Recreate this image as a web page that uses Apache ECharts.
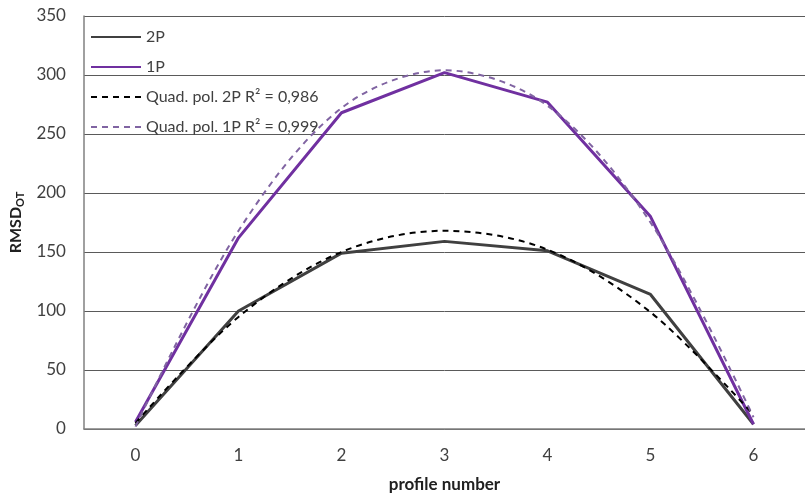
<!DOCTYPE html>
<html>
<head>
<meta charset="utf-8">
<script src="https://cdn.jsdelivr.net/npm/echarts@6/dist/echarts.min.js"></script>
<style>
  html, body { margin: 0; padding: 0; background: #fff; }
  #chart { width: 805px; height: 498px; }
</style>
</head>
<body>
<div id="chart"></div>
<script>
// profile numbers on the x axis
const profiles = ['0', '1', '2', '3', '4', '5', '6']
// measured RMSD values
const rmsd2P = [3, 100, 149, 159, 151, 114, 4]
const rmsd1P = [6, 162, 268, 302, 277, 180, 4]
// quadratic trend lines at each profile
const trend2P = [5, 95, 150, 168, 152, 99, 12]
const trend1P = [2, 168, 272, 304, 274, 175, 10]

const FONT = 'Lato, "Open Sans", sans-serif'

const chart = echarts.init(document.getElementById('chart'))

const option = {
  animation: false,
  textStyle: { fontFamily: FONT },
  grid: { left: 80, top: 16, bottom: 63, right: -8, containLabel: false },
  legend: {
    orient: 'vertical',
    left: 85,
    top: 24,
    itemWidth: 50,
    itemHeight: 14,
    itemGap: 14,
    itemStyle: { opacity: 0 },
    textStyle: { fontFamily: FONT, fontSize: 16, color: '#404040' },
    data: ['2P', '1P', 'Quad. pol. 2P R² = 0,986', 'Quad. pol. 1P R² = 0,999'],
  },
  xAxis: {
    type: 'category',
    data: profiles,
    boundaryGap: true,
    axisTick: { show: false },
    axisLine: { lineStyle: { color: '#808080', width: 1.5 } },
    axisLabel: { color: '#404040', fontSize: 17, margin: 18 },
    name: 'profile number',
    nameLocation: 'middle',
    nameGap: 47,
    nameTextStyle: { color: '#202020', fontSize: 17, fontWeight: 'bold', fontFamily: FONT },
  },
  yAxis: {
    type: 'value',
    min: 0,
    max: 350,
    interval: 50,
    axisLine: { show: true, lineStyle: { color: '#808080', width: 1.5 } },
    axisTick: { show: false },
    axisLabel: { color: '#404040', fontSize: 17, margin: 18 },
    splitLine: { lineStyle: { color: '#5a5a5a', width: 1 } },
    name: '{a|RMSD}{b|OT}',
    nameLocation: 'middle',
    nameGap: 58,
    nameRotate: 90,
    nameTextStyle: {
      rich: {
        a: { fontSize: 16, fontWeight: 'bold', color: '#202020', fontFamily: FONT },
        b: { fontSize: 11, fontWeight: 'bold', color: '#202020', fontFamily: FONT, padding: [8, 0, 0, 0] },
      },
    },
  },
  series: [
    {
      name: '2P',
      type: 'line',
      data: rmsd2P,
      symbol: 'none',
      lineStyle: { color: '#404040', width: 3 },
      itemStyle: { color: '#404040' },
      z: 3,
    },
    {
      name: '1P',
      type: 'line',
      data: rmsd1P,
      symbol: 'none',
      lineStyle: { color: '#7030A0', width: 3 },
      itemStyle: { color: '#7030A0' },
      z: 4,
    },
    {
      name: 'Quad. pol. 2P R² = 0,986',
      type: 'line',
      data: trend2P,
      symbol: 'none',
      smooth: 0.33,
      lineStyle: { color: '#000000', width: 2, type: [6, 5] },
      itemStyle: { color: '#000000' },
      z: 5,
    },
    {
      name: 'Quad. pol. 1P R² = 0,999',
      type: 'line',
      data: trend1P,
      symbol: 'none',
      smooth: 0.33,
      lineStyle: { color: '#8064A2', width: 2, type: [6, 5] },
      itemStyle: { color: '#8064A2' },
      z: 5,
    },
  ],
}

chart.setOption(option)
window.addEventListener('resize', () => chart.resize())
</script>
</body>
</html>
